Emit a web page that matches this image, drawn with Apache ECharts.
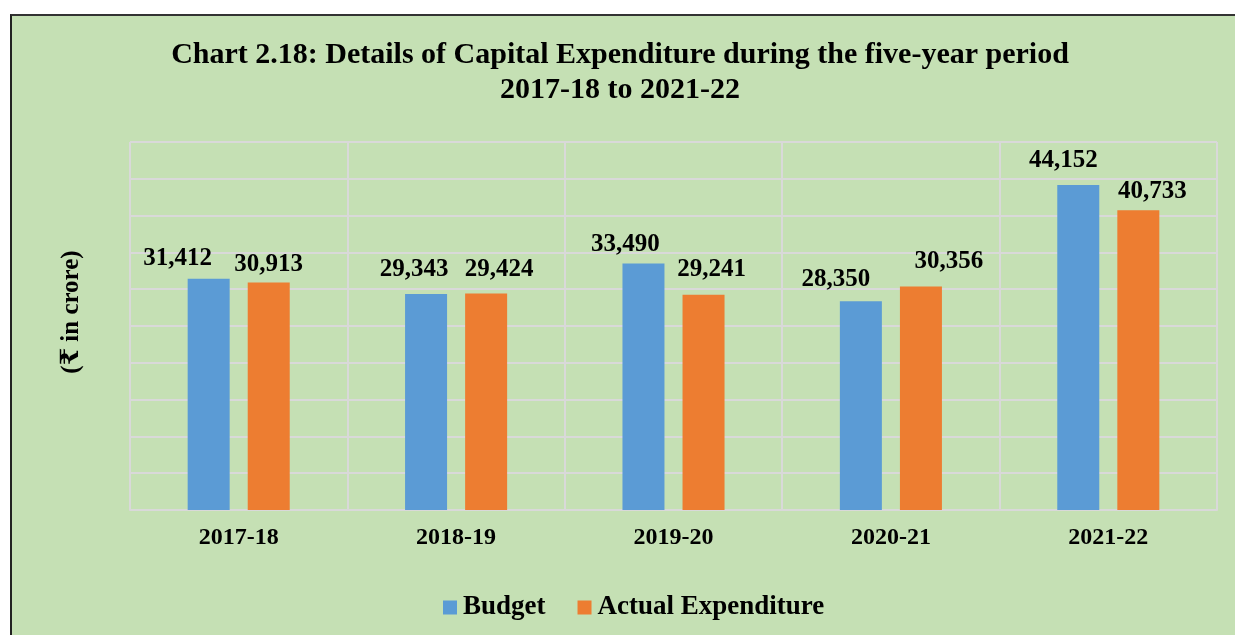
<!DOCTYPE html>
<html>
<head>
<meta charset="utf-8">
<script src="https://cdn.jsdelivr.net/npm/echarts@6/dist/echarts.min.js"></script>
<style>
  html, body { margin: 0; padding: 0; background: #fff; }
  #frame {
    position: absolute; left: 10px; top: 14px; width: 1225px; height: 621px;
    background: #c5e0b4; border-left: 2px solid #222; border-top: 2px solid #333;
  }
  #main { position: absolute; left: 0; top: 0; width: 1235px; height: 635px; }
</style>
</head>
<body>
<div id="frame"></div>
<div id="main"></div>
<script>
var years = ["2017-18", "2018-19", "2019-20", "2020-21", "2021-22"];
var budget = [31412, 29343, 33490, 28350, 44152];
var actual = [30913, 29424, 29241, 30356, 40733];

// label nudges, so labels sit where they are in the picture
var budgetLabelShift = [[-31, -3], [-12, -7], [-18, -1], [-25, -4], [-15, -7]];
var actualLabelShift = [[0, 0], [13, -6], [8, -8], [28, -8], [14, -1]];

var font = "'Liberation Serif', 'Times New Roman', 'DejaVu Serif', 'Noto Sans', serif";
var gridColor = "#d9d9d9";

function withLabels(values, shifts) {
  return values.map(function (v, i) {
    return { value: v, label: { offset: shifts[i] } };
  });
}

var myChart = echarts.init(document.getElementById("main"));
var labelStyle = {
  show: true,
  position: "top",
  color: "#000",
  fontSize: 25,
  fontWeight: "bold",
  fontFamily: font,
  formatter: function (p) {
    return p.value.toLocaleString("en-US");
  },
};

var option = {
  backgroundColor: "transparent",
  animation: false,
  title: {
    text: "Chart 2.18: Details of Capital Expenditure during the five-year period\n2017-18 to 2021-22",
    left: 615,
    textAlign: "center",
    top: 33,
    textStyle: {
      color: "#000",
      fontSize: 30,
      fontWeight: "bold",
      fontFamily: font,
      lineHeight: 35,
    },
  },
  graphic: [
    {
      type: "text",
      x: 72,
      y: 312,
      rotation: Math.PI / 2,
      style: {
        text: "(₹ in crore)",
        fill: "#000",
        font: "bold 25px " + font,
        align: "center",
        verticalAlign: "middle",
      },
    },
  ],
  legend: {
    top: 594,
    left: 443,
    padding: 0,
    icon: "rect",
    itemWidth: 14,
    itemHeight: 14,
    itemGap: 32,
    textStyle: {
      color: "#000",
      fontSize: 27,
      fontWeight: "bold",
      fontFamily: font,
      padding: [0, 0, 0, 1],
    },
    data: ["Budget", "Actual Expenditure"],
  },
  grid: {
    left: 130,
    right: 18,
    top: 142,
    bottom: 125,
  },
  xAxis: {
    type: "category",
    data: years,
    axisTick: { show: false },
    axisLine: { lineStyle: { color: gridColor, width: 2 } },
    splitLine: { show: true, lineStyle: { color: gridColor, width: 2 } },
    axisLabel: {
      color: "#000",
      fontSize: 24,
      fontWeight: "bold",
      fontFamily: font,
      margin: 16,
    },
  },
  yAxis: {
    type: "value",
    min: 0,
    max: 50000,
    interval: 5000,
    axisLabel: { show: false },
    axisTick: { show: false },
    axisLine: { show: false },
    splitLine: { show: true, lineStyle: { color: gridColor, width: 2 } },
  },
  series: [
    {
      name: "Budget",
      type: "bar",
      barWidth: 42,
      barGap: "43%",
      itemStyle: { color: "#5b9bd5" },
      label: labelStyle,
      data: withLabels(budget, budgetLabelShift),
    },
    {
      name: "Actual Expenditure",
      type: "bar",
      barWidth: 42,
      itemStyle: { color: "#ed7d31" },
      label: labelStyle,
      data: withLabels(actual, actualLabelShift),
    },
  ],
};

myChart.setOption(option);
</script>
</body>
</html>
